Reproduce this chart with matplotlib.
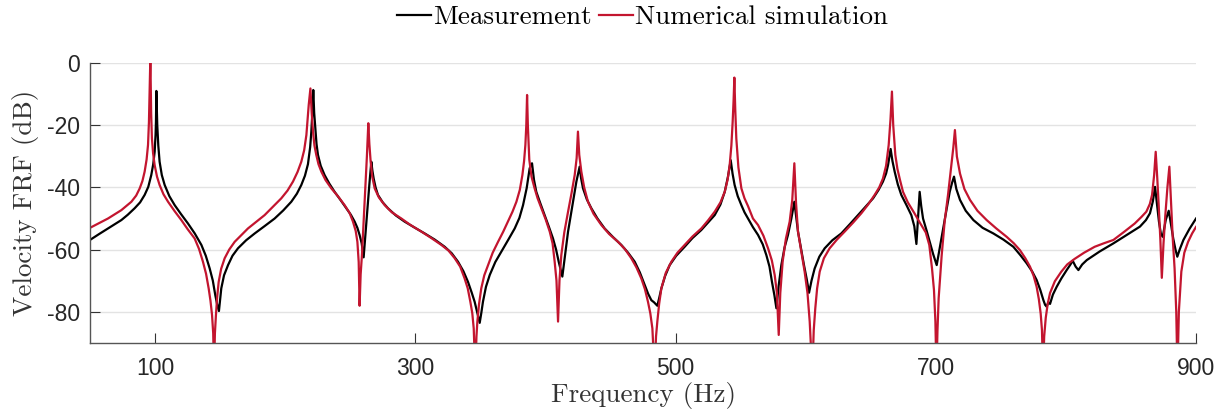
import matplotlib
matplotlib.use("Agg")
import matplotlib.pyplot as plt

meas_freq = [50, 57, 63.8, 69, 74.1, 79, 84.3, 88.5, 92.0, 94.8, 97.1, 98.6, 99.7, 100.4, 100.7,
             101.0, 101.4, 101.7, 102.5, 103.5, 105.2, 107.4, 111, 115.1, 120, 125.3, 130.5,
             135.6, 139, 142.0, 144.4, 146.3, 147.8, 149.1, 150.0, 150.9, 153.0, 156.1, 159.5,
             163.7, 170, 176.6, 184, 191.9, 198.5, 204.7, 209, 212.4, 215.2, 217.5, 219.2,
             220.1, 221.0, 221.6, 222.3, 223.2, 224.1, 225.2, 227.3, 230.3, 234, 238.0, 242.5,
             247.0, 250.5, 253.4, 255.5, 257.2, 258.8, 260.3, 261.7, 263.1, 264.7, 266.2,
             267.0, 268.0, 269.5, 271.3, 275, 279.0, 285, 291.8, 299, 307.2, 315, 322.6, 328,
             332.8, 337, 340.5, 343.3, 345.6, 347.7, 349.5, 350.7, 352.0, 354.3, 357.2, 361.5,
             366.1, 371.5, 376.4, 380, 382.8, 385.6, 387.9, 389.7, 391.2, 393.0, 396, 399.4,
             402.7, 405.8, 408.2, 410.2, 413.0, 415.2, 417.4, 420.7, 423.8, 426.3, 427.4,
             428.9, 431.8, 435.3, 440, 445.5, 452, 458.3, 463.5, 468.6, 472.5, 476.3, 479,
             481.4, 483.5, 486.0, 487.5, 489.1, 492, 495.5, 500.5, 507.0, 513, 519.8, 525,
             530.1, 534.5, 537.8, 540.3, 542.4, 543.8, 545.4, 547.8, 550.6, 553, 555.7, 559.5,
             563.4, 567, 569.8, 572.2, 574.1, 576.0, 577.5, 579.3, 581.3, 583.8, 586.4, 589.0,
             591.3, 592.7, 594.1, 596.5, 598.7, 600.8, 602.6, 604.5, 606.9, 610.5, 614.6,
             620.5, 627.4, 634, 640.2, 646, 651.8, 656, 659.4, 661.8, 663.3, 665.3, 666.7,
             668.4, 670.8, 673.5, 677.5, 681.2, 683.5, 685.1, 687.6, 688.8, 690.2, 693, 695.3,
             698, 700.7, 703, 705.6, 708.3, 710.7, 712.5, 714.0, 715.8, 718.6, 723, 728.9, 736,
             744.2, 752, 759.6, 765, 769.8, 774, 777.5, 780.3, 782.7, 784, 785.2, 786.5, 787.8,
             790, 792.9, 796.5, 800.6, 803.5, 805.2, 807.5, 809.6, 812.5, 816.0, 826, 836.5,
             847, 856.9, 861.5, 864.6, 866.8, 868.5, 870.2, 871.5, 873.0, 874.4, 876.7, 879.0,
             880.8, 882.5, 884.2, 885.6, 887.6, 890.3, 895, 900]
meas_db = [-56.9, -55.0, -53.2, -51.8, -50.5, -48.8, -46.7, -44.8, -42.4, -39.8, -36.0, -32.5, -28.5,
           -23.0, -18.8, -8.9, -15.0, -19.9, -26.5, -31.7, -36.0, -39.2, -42.8, -45.7, -48.6,
           -51.6, -54.8, -58.5, -62.0, -66.1, -70.0, -74.7, -77.8, -79.8, -76.0, -72.5, -68.3,
           -65.0, -62.0, -59.6, -57.0, -54.8, -52.5, -50.0, -47.4, -44.6, -42.0, -39.2, -36.2,
           -32.5, -27.0, -22.0, -15.0, -8.6, -16.0, -21.0, -26.0, -29.5, -33.0, -36.0, -38.8,
           -41.4, -44.0, -46.7, -48.8, -51.0, -53.0, -55.3, -58.0, -62.5, -55.0, -47.8, -39.0,
           -31.7, -34.5, -37.1, -40.0, -42.4, -44.8, -46.7, -49.0, -51.0, -52.8, -54.8, -56.8,
           -59.1, -61.2, -63.9, -67.0, -70.4, -73.8, -76.8, -80.5, -83.6, -80.5, -76.8, -72.0,
           -68.2, -64.0, -60.7, -56.8, -53.2, -49.8, -45.7, -40.2, -33.8, -32.2, -37.5, -41.4,
           -45.0, -48.9, -52.7, -56.4, -60.0, -63.9, -68.7, -61.5, -54.2, -46.0, -38.1, -33.3,
           -37.0, -40.3, -43.8, -46.7, -50.0, -53.2, -56.0, -58.5, -61.0, -63.9, -67.3, -71.4,
           -74.3, -76.3, -77.0, -78.1, -75.5, -72.5, -68.5, -65.0, -62.0, -59.1, -56.3, -53.7,
           -51.3, -48.9, -45.5, -41.4, -36.5, -31.2, -35.5, -39.2, -42.8, -45.7, -48.0, -50.0,
           -52.8, -55.3, -58.3, -61.8, -65.5, -70.4, -74.8, -78.9, -71.5, -65.0, -59.3, -55.3,
           -50.0, -44.6, -49.5, -54.2, -59.8, -65.0, -69.5, -73.9, -70.0, -66.1, -62.3, -59.6,
           -57.0, -54.8, -51.8, -48.9, -46.2, -43.5, -40.8, -38.1, -35.5, -32.8, -27.6, -31.5,
           -34.9, -39.0, -42.4, -45.7, -48.9, -52.5, -58.2, -41.4, -46.0, -50.0, -54.0, -57.5,
           -61.5, -65.0, -59.5, -53.2, -47.0, -41.4, -38.5, -36.5, -40.5, -44.0, -47.5, -50.5,
           -53.0, -54.8, -56.8, -59.1, -61.8, -64.4, -67.0, -69.8, -73.0, -76.3, -77.8, -78.4,
           -77.0, -77.5, -74.5, -72.0, -69.3, -66.6, -64.8, -63.6, -65.5, -66.6, -64.8, -63.4,
           -60.6, -58.0, -55.2, -52.6, -50.5, -48.3, -44.5, -39.8, -46.0, -51.0, -55.0, -55.9,
           -50.5, -47.5, -52.0, -56.5, -60.0, -62.3, -59.8, -56.9, -53.3, -50.0]

# Numerical simulation (dips run below the axis)
sim_freq = [50, 63.8, 74.1, 81.8, 85.5, 88.2, 90.3, 92.0, 93.5, 94.6, 95.3, 95.9, 96.4, 97.0,
            97.6, 98.5, 99.7, 101.5, 103.5, 106.5, 110.0, 115.0, 120.2, 125.0, 130.4, 133.8,
            136.8, 139.2, 141.2, 142.6, 143.8, 144.7, 145.3, 146.0, 146.8, 147.7, 148.9,
            150.8, 153.5, 157.0, 161.2, 171.4, 184.2, 197.0, 201.8, 206.0, 209.5, 212.4,
            214.6, 216.3, 218.1, 219.4, 220.4, 221.4, 222.5, 223.9, 225.6, 227.8, 231.0,
            235.5, 240.5, 245.7, 249.5, 252.1, 254.2, 255.5, 256.5, 257.2, 258.0, 259.0,
            260.3, 261.6, 262.8, 263.9, 264.7, 265.7, 266.9, 268.8, 272, 276.5, 282, 289.3,
            296, 304.6, 312, 320.0, 325.5, 330.3, 334.5, 337.9, 340.3, 342.3, 343.8, 344.9,
            346.1, 347.0, 347.7, 349.0, 350.7, 353.0, 355.9, 359.5, 363.6, 367.5, 371.2,
            374.7, 377.7, 380.3, 382.3, 383.6, 384.6, 385.3, 385.9, 386.5, 387.6, 389.3,
            391.7, 394.0, 396.9, 400.2, 403.3, 405.5, 407.1, 408.5, 409.7, 410.8, 412.2,
            414.5, 417.4, 420.0, 422.5, 424.0, 425.0, 426.0, 427.6, 429.8, 432.7, 437, 443.0,
            449, 455.8, 461, 466.0, 470, 473.7, 476.5, 478.8, 480.6, 482.2, 483.9, 485.0,
            486.0, 487.4, 489.1, 492.5, 496.8, 501.5, 507.0, 513, 519.8, 525, 530.1, 534.5,
            537.8, 540.0, 541.6, 542.9, 543.9, 544.6, 545.2, 545.9, 546.7, 548.3, 550.6,
            553.0, 555.7, 559.5, 563.4, 567.5, 571.1, 574.0, 576.2, 577.9, 579.3, 580.5,
            582.3, 584.8, 587.7, 589.7, 591.3, 592.6, 594.1, 596.8, 599.2, 601.4, 603.1,
            605.1, 606.2, 607.4, 608.8, 610.8, 614, 618.4, 624, 630.0, 636.5, 642.8, 648,
            653.0, 656.5, 659.4, 661.8, 663.8, 665.2, 666.3, 667.3, 668.9, 670.5, 672.5,
            674.8, 678.5, 683.3, 688, 692.3, 695.0, 697.1, 698.6, 699.7, 700.5, 701.3, 702.2,
            704.5, 706.8, 709.5, 712.0, 713.5, 714.7, 716.2, 718.6, 722, 726.3, 732, 739.1,
            746.5, 754.5, 760, 764.7, 768.8, 772.4, 775.2, 777.5, 779.2, 780.6, 781.6, 782.4,
            783.3, 784.5, 786, 787.8, 791.5, 796.5, 801, 806.7, 814, 822.1, 829, 836.5, 845,
            852.9, 858, 861.8, 864.5, 866.2, 867.8, 869.0, 870.2, 871.3, 872.6, 873.7, 875.0,
            876.4, 878.0, 879.5, 880.8, 882.1, 883.5, 884.8, 885.7, 886.8, 888.7, 891, 893.9,
            897, 900]
sim_db = [-53.0, -50.0, -47.3, -44.6, -42.6, -40.3, -37.9, -34.9, -31.0, -26.3, -19.0, -8.1, 2.0,
          -16.0, -24.2, -29.0, -32.8, -36.5, -39.2, -42.2, -44.6, -47.6, -50.5, -53.4, -56.4,
          -59.8, -63.9, -67.8, -72.5, -76.5, -81.1, -87.0, -100, -87.0, -81.1, -75.5, -70.4,
          -66.2, -62.8, -60.0, -57.5, -53.2, -48.9, -43.5, -41.0, -38.1, -35.0, -31.7,
          -28.0, -23.1, -13.4, -8.1, -16.0, -22.0, -26.5, -29.5, -32.5, -34.9, -37.6,
          -40.3, -42.8, -45.7, -48.2, -51.0, -54.0, -57.5, -64.0, -78.1, -68.0, -61.8,
          -51.0, -40.3, -30.0, -19.3, -26.0, -31.7, -36.5, -40.3, -43.2, -45.7, -48.0, -50.0,
          -52.0, -54.2, -56.2, -58.5, -60.3, -62.8, -65.5, -69.3, -72.5, -76.8, -80.5, -85.4,
          -100, -88.0, -83.2, -77.5, -72.5, -68.3, -65.0, -61.0, -57.5, -54.3, -51.0,
          -47.8, -44.6, -40.8, -36.0, -31.5, -26.3, -20.0, -10.2, -20.0, -31.0, -36.5,
          -40.3, -43.5, -46.7, -50.3, -54.2, -58.0, -63.9, -70.0, -83.2, -70.0, -61.8,
          -54.5, -47.8, -42.0, -36.0, -30.5, -22.0, -29.5, -34.9, -40.0, -44.6, -48.5, -52.1,
          -55.0, -57.5, -59.8, -62.8, -65.8, -69.3, -72.8, -76.8, -80.5, -85.4, -100, -88.0,
          -83.2, -77.5, -72.5, -67.5, -63.9, -61.0, -58.5, -55.8, -53.2, -50.6, -47.8, -44.8,
          -41.4, -37.5, -32.8, -26.5, -18.8, -12.0, -4.6, -15.0, -24.2, -33.5, -40.3,
          -43.5, -46.0, -50.0, -52.1, -55.5, -59.6, -63.5, -68.2, -74.0, -87.5, -74.0,
          -63.9, -56.5, -51.0, -44.0, -32.2, -45.0, -54.2, -61.0, -67.1, -74.0, -83.2,
          -100, -86.0, -78.9, -72.5, -67.1, -62.8, -59.6, -56.8, -54.2, -51.3, -48.3, -45.5,
          -42.4, -40.0, -37.1, -33.0, -26.3, -18.0, -9.1, -20.0, -29.5, -34.0, -37.6,
          -41.4, -44.8, -48.1, -51.5, -54.5, -58.5, -66.1, -73.0, -83.2, -100, -86.0, -75.7,
          -62.0, -51.0, -42.0, -32.8, -27.0, -21.5, -30.0, -35.5, -40.5, -44.0, -47.5, -50.5,
          -53.2, -55.9, -58.0, -60.2, -62.8, -65.5, -68.5, -72.0, -76.0, -80.6, -86.0, -100,
          -88.0, -82.0, -77.5, -74.0, -70.2, -67.1, -64.8, -63.0, -61.0, -59.1, -58.0, -56.9, -54.2,
          -51.6, -49.5, -47.8, -45.3, -42.4, -36.0, -28.5, -37.0, -45.7, -57.0, -69.1, -58.0,
          -48.9, -40.0, -33.3, -45.0, -56.4, -66.0, -80.0, -100, -80.0, -67.1, -61.0, -57.5,
          -54.8, -52.7]

plt.rcParams['axes.unicode_minus'] = False

fig = plt.figure(figsize=(12.31, 4.19), dpi=100)
ax = fig.add_axes([0.0731, 0.1821, 0.8985, 0.6668])

ax.plot(meas_freq, meas_db, color='black', lw=1.6, label='Measurement')
ax.plot(sim_freq, sim_db, color='#C3152F', lw=1.6, label='Numerical simulation')

ax.set_xlim(50, 900)
ax.set_ylim(-90, 0)
ax.set_xticks([100, 300, 500, 700, 900])
ax.set_yticks([0, -20, -40, -60, -80])
ax.yaxis.grid(True, color='#e3e3e3', lw=1.0)
ax.set_axisbelow(True)

for side in ['top', 'right']:
    ax.spines[side].set_visible(False)
for side in ['left', 'bottom']:
    ax.spines[side].set_color('#555555')
    ax.spines[side].set_linewidth(1.0)

ax.tick_params(direction='in', length=7, width=0.8, color='#333333',
               labelsize=16.5, labelcolor='#262626')
ax.tick_params(axis='x', pad=10)
ax.tick_params(axis='y', pad=7)
for lab in ax.get_xticklabels() + ax.get_yticklabels():
    lab.set_fontfamily('Liberation Sans')

ax.set_xlabel('Frequency (Hz)', fontfamily='cmr10', fontsize=19.5, color='#333333', labelpad=2)
ax.set_ylabel('Velocity FRF (dB)', fontfamily='cmr10', fontsize=19.5, color='#333333', labelpad=6)

fig.legend(loc='center', bbox_to_anchor=(0.522, 0.959), ncol=2, frameon=False,
           handlelength=1.25, handletextpad=0.08, columnspacing=0.3,
           prop={'family': 'cmr10', 'size': 19.5})

fig.savefig('out.png', dpi=100)
